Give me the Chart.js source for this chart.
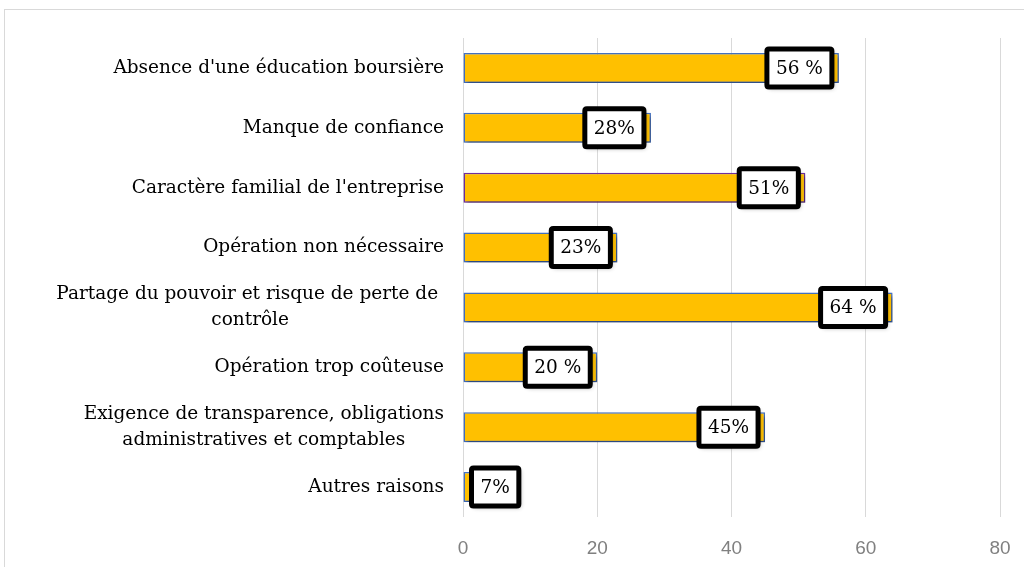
<!DOCTYPE html>
<html><head><meta charset="utf-8">
<script src="https://cdn.jsdelivr.net/npm/chart.js@4/dist/chart.umd.min.js"></script>
<style>
html,body{margin:0;padding:0;background:#fff;overflow:hidden}
#wrap{position:relative;width:1024px;height:567px;overflow:hidden}
#frame{position:absolute;left:4px;top:9px;width:1100px;height:700px;border:1px solid #d9d9d9}
canvas{position:absolute;left:0;top:0}
</style></head>
<body><div id="wrap"><div id="frame"></div><canvas id="c" width="1024" height="567"></canvas></div>
<script>
const categories = [
  ["Absence d'une éducation boursière"],
  ["Manque de confiance"],
  ["Caractère familial de l'entreprise"],
  ["Opération non nécessaire"],
  ["Partage du pouvoir et risque de perte de ", "contrôle"],
  ["Opération trop coûteuse"],
  ["Exigence de transparence, obligations", "administratives et comptables"],
  ["Autres raisons"]
];
const values = [56, 28, 51, 23, 64, 20, 45, 7];
const valueLabels = ["56 %", "28%", "51%", "23%", "64 %", "20 %", "45%", "7%"];
const xTicks = [0, 20, 40, 60, 80];
const borderColors = ["#4472C4", "#4472C4", "#7030A0", "#4472C4", "#4472C4", "#4472C4", "#4472C4", "#4472C4"];

const SERIF = "'DejaVu Serif', 'Liberation Serif', serif";
const LABEL_FONT = "18.5px " + SERIF;
const BOX_FONT = "18.5px " + SERIF;

const shadowPlugin = {
  id: 'shadow',
  beforeDatasetsDraw(chart) {
    const c = chart.ctx; c.save();
    c.shadowColor = 'rgba(0,0,0,0.4)'; c.shadowBlur = 4; c.shadowOffsetX = 2; c.shadowOffsetY = 3;
  },
  afterDatasetsDraw(chart) { chart.ctx.restore(); }
};

function roundRect(c, x, y, w, h, r) {
  c.beginPath();
  c.moveTo(x + r, y); c.lineTo(x + w - r, y); c.quadraticCurveTo(x + w, y, x + w, y + r);
  c.lineTo(x + w, y + h - r); c.quadraticCurveTo(x + w, y + h, x + w - r, y + h);
  c.lineTo(x + r, y + h); c.quadraticCurveTo(x, y + h, x, y + h - r);
  c.lineTo(x, y + r); c.quadraticCurveTo(x, y, x + r, y); c.closePath();
}

const boxLabelPlugin = {
  id: 'boxLabels',
  afterDatasetsDraw(chart) {
    const c = chart.ctx;
    const meta = chart.getDatasetMeta(0);
    c.save();
    c.font = BOX_FONT;
    meta.data.forEach((el, i) => {
      const txt = valueLabels[i];
      const tw = c.measureText(txt).width;
      const w = tw + 18, h = 38;
      let right = el.x - 7;
      let left = right - w;
      if (left < el.base + 8) { left = el.base + 8; right = left + w; }
      const top = el.y - h / 2;
      c.save();
      c.shadowColor = 'rgba(0,0,0,0.3)'; c.shadowBlur = 4; c.shadowOffsetX = 2; c.shadowOffsetY = 2;
      roundRect(c, left, top, w, h, 2);
      c.fillStyle = '#fff'; c.fill();
      c.restore();
      roundRect(c, left, top, w, h, 2);
      c.lineWidth = 5; c.strokeStyle = '#000'; c.stroke();
      c.fillStyle = '#000'; c.textAlign = 'center'; c.textBaseline = 'middle';
      c.fillText(txt, left + w / 2, el.y + 1);
    });
    c.restore();
  }
};

const yLabelPlugin = {
  id: 'yLabels',
  afterDraw(chart) {
    const c = chart.ctx, ys = chart.scales.y;
    c.save();
    c.font = LABEL_FONT; c.fillStyle = '#000'; c.textAlign = 'center'; c.textBaseline = 'middle';
    const rightEdge = ys.right - 19, lh = 26;
    categories.forEach((lines, i) => {
      const yc = ys.getPixelForValue(i);
      const maxW = Math.max(...lines.map(l => c.measureText(l).width));
      const cx = rightEdge - maxW / 2;
      lines.forEach((l, k) => {
        c.fillText(l, cx, yc + (k - (lines.length - 1) / 2) * lh);
      });
    });
    c.restore();
  }
};

new Chart(document.getElementById('c'), {
  type: 'bar',
  data: {
    labels: categories.map(l => l.join(' ')),
    datasets: [{
      data: values,
      backgroundColor: '#FFC000',
      borderColor: borderColors,
      borderWidth: 1.5,
      borderSkipped: false,
      categoryPercentage: 1,
      barPercentage: 0.5
    }]
  },
  options: {
    indexAxis: 'y',
    responsive: false,
    animation: false,
    layout: { padding: { top: 38, right: 24, left: 0, bottom: 0 } },
    plugins: { legend: { display: false }, tooltip: { enabled: false } },
    scales: {
      x: {
        min: 0, max: 80,
        afterBuildTicks(s) { s.ticks = xTicks.map(v => ({ value: v })); },
        afterFit(s) { s.height = 50; s.paddingRight = 0; s.paddingLeft = 0; },
        ticks: { color: '#808080', font: { family: "'Liberation Sans', sans-serif", size: 19 }, padding: 20 },
        grid: { color: '#d9d9d9', lineWidth: 1, drawTicks: false },
        border: { display: false }
      },
      y: {
        afterFit(s) { s.width = 463; },
        ticks: { display: false },
        grid: { display: false },
        border: { display: false }
      }
    }
  },
  plugins: [shadowPlugin, boxLabelPlugin, yLabelPlugin]
});
</script>
</body></html>
